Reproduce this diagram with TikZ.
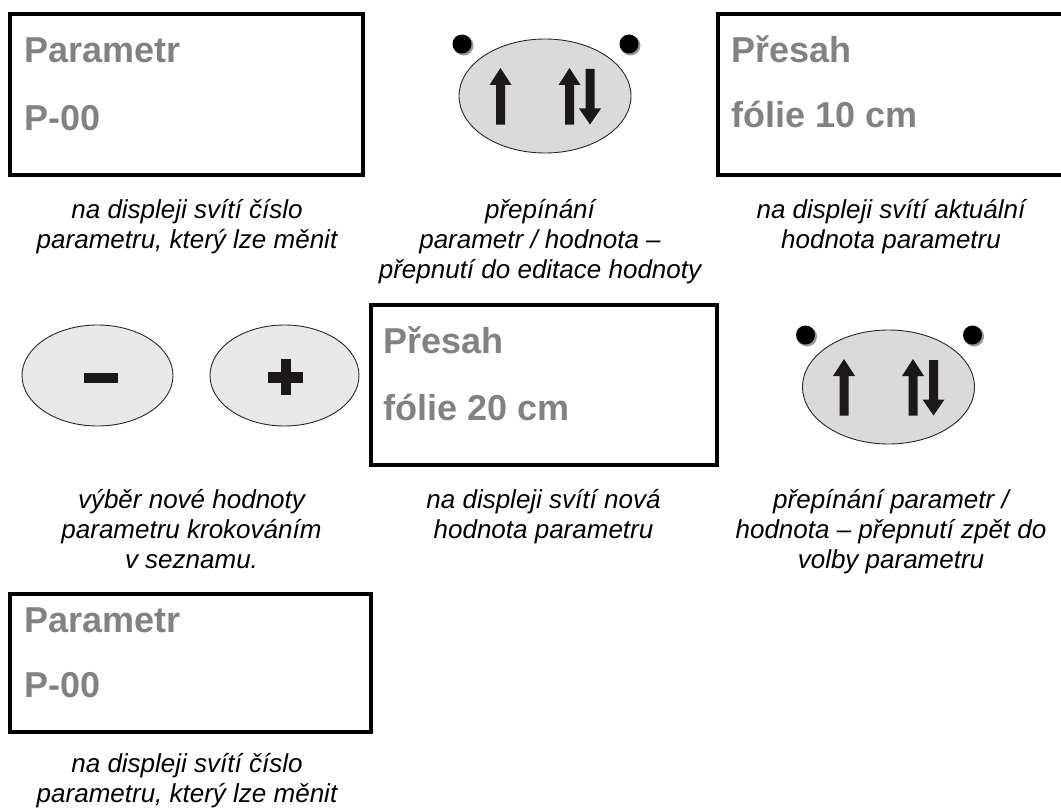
\documentclass[tikz,border=0pt]{standalone}
\usepackage{fontspec}
\setmainfont{Liberation Sans}
\definecolor{lcdtext}{RGB}{130,130,130}
\definecolor{btnfill}{RGB}{218,218,218}
\definecolor{keyfill}{RGB}{232,232,232}
\definecolor{btnedge}{RGB}{40,40,40}
\definecolor{glyph}{RGB}{28,24,24}
\definecolor{dotrim}{RGB}{150,150,150}
\tikzset{
  pics/toggle/.style={code={
    \fill[dotrim] (-81.5,-50.5) circle (10pt);
    \fill[black] (-83,-52) circle (9.5pt);
    \fill[dotrim] (85.5,-50.5) circle (10pt);
    \fill[black] (84,-52) circle (9.5pt);
    \draw[btnedge, line width=0.9pt, fill=btnfill] (0,0) ellipse [x radius=86pt, y radius=57pt];
    \fill[glyph] (-49,28.5) -- (-49,-11) -- (-55.5,-11) -- (-44.5,-28) -- (-33.5,-11) -- (-40,-11) -- (-40,28.5) -- cycle;
    \fill[glyph] (20,28.5) -- (20,-11) -- (13.5,-11) -- (24.5,-28) -- (35.5,-11) -- (29,-11) -- (29,28.5) -- cycle;
    \fill[glyph] (40.5,-27) -- (40.5,12.5) -- (34,12.5) -- (45,28.5) -- (56,12.5) -- (49.5,12.5) -- (49.5,-27) -- cycle;
  }}
}
\begin{document}
\begin{tikzpicture}[x=1pt,y=-1pt,
  lcd/.style={draw=black, line width=4pt, line join=miter},
  lcdtxt/.style={font=\fontsize{36}{40}\selectfont\bfseries, text=lcdtext, inner sep=0pt, anchor=base west},
  captxt/.style={font=\fontsize{26}{30}\selectfont\itshape, align=center, inner sep=0pt, anchor=north},
  keyshape/.style={draw=btnedge, line width=0.9pt, fill=keyfill}]
\useasboundingbox (0,0) rectangle (1061,808);

% displays
\draw[lcd] (10,14) rectangle (363,175);
\node[lcdtxt] (d1a) at (24,63) {Parametr};
\node[lcdtxt] (d1b) at (24,131) {P-00};

\draw[lcd] (1061,14) -- (718,14) -- (718,175) -- (1061,175);
\node[lcdtxt] (d3a) at (731,63) {Přesah};
\node[lcdtxt] (d3b) at (731,128) {fólie 10 cm};

\draw[lcd] (370.5,304.5) rectangle (717,465);
\node[lcdtxt] (d5a) at (383,353) {Přesah};
\node[lcdtxt] (d5b) at (383,420) {fólie 20 cm};

\draw[lcd] (10,594) rectangle (370.5,732);
\node[lcdtxt] (d7a) at (24,632) {Parametr};
\node[lcdtxt] (d7b) at (24,697) {P-00};

% toggle buttons
\pic (b2) at (545,96) {toggle};
\pic (b6) at (888.5,387) {toggle};

% minus / plus keys
\draw[keyshape] (97.5,375.5) ellipse [x radius=75.5pt, y radius=50.5pt];
\fill[glyph] (84,373) rectangle (118,383);
\draw[keyshape] (284.5,375.5) ellipse [x radius=74.5pt, y radius=50.5pt];
\fill[glyph] (268,372) rectangle (303,382.5);
\fill[glyph] (280.5,359) rectangle (291,394.5);

% captions
\node[captxt] (c1) at (187,197) {\strut na displeji svítí číslo\\parametru, který lze měnit};
\node[captxt] (c2) at (540,197) {\strut přepínání\\parametr / hodnota –\\přepnutí do editace hodnoty};
\node[captxt] (c3) at (891,197) {\strut na displeji svítí aktuální\\hodnota parametru};
\node[captxt] (c4) at (191.5,487) {\strut výběr nové hodnoty\\parametru krokováním\\v seznamu.};
\node[captxt] (c5) at (543.5,487) {\strut na displeji svítí nová\\hodnota parametru};
\node[captxt] (c6) at (891,487) {\strut přepínání parametr /\\hodnota – přepnutí zpět do\\volby parametru};
\node[captxt] (c7) at (187,751) {\strut na displeji svítí číslo\\parametru, který lze měnit};
\end{tikzpicture}
\end{document}
